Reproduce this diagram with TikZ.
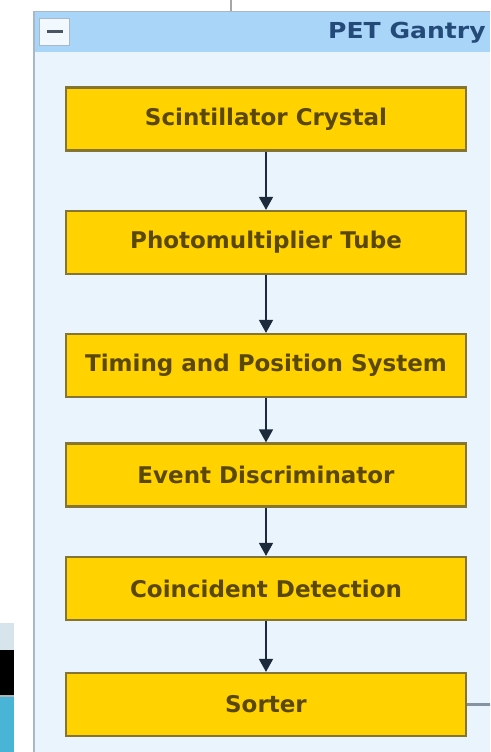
\documentclass[tikz,border=0pt]{standalone}
\usepackage{fontspec}
\setmainfont{DejaVu Sans}
\usetikzlibrary{arrows.meta,calc}
\definecolor{boxfill}{HTML}{FFD200}
\definecolor{boxline}{HTML}{857535}
\definecolor{boxtext}{HTML}{5A4800}
\definecolor{panelbg}{HTML}{EAF4FC}
\definecolor{headerbg}{HTML}{A9D5F8}
\definecolor{headertext}{HTML}{244A78}
\definecolor{arrowcol}{HTML}{1C2A3C}
\definecolor{panelline}{HTML}{A8B8C8}
\definecolor{stripblue}{HTML}{4AB4D6}
\definecolor{stripgray}{HTML}{D8E4EC}
\tikzset{
  stepbox/.style={draw=boxline, line width=2.2pt, fill=boxfill, text=boxtext,
    minimum width=400pt, minimum height=63pt, inner sep=0pt,
    font=\fontsize{23}{26}\selectfont\bfseries},
  flow/.style={draw=arrowcol, line width=1.6pt, -{Triangle[length=13pt,width=14pt]}},
  outlink/.style={draw=panelline!80!black, line width=2.5pt}
}
\begin{document}
\begin{tikzpicture}[x=1pt,y=-1pt]
\useasboundingbox (0,0) rectangle (490,752);
\clip (0,0) rectangle (490,752);
\fill[white] (0,0) rectangle (490,752);
% left strip artefacts
\fill[stripgray] (0,623) rectangle (14,650);
\fill[black] (0,650) rectangle (14,695);
\fill[gray!60] (0,695) rectangle (14,697);
\fill[stripblue] (0,697) rectangle (14,752);
% panel
\fill[panelbg] (33,52) rectangle (490,752);
\fill[headerbg] (33,12) rectangle (490,52);
\draw[panelline, line width=1.5pt] (33.75,12) -- (33.75,752);
\draw[panelline, line width=1pt] (33,12) -- (490,12);
\draw[gray!70, line width=1.5pt] (231,0) -- (231,11);
% minus button
\node[draw=panelline, fill=white!85!headerbg, line width=1.5pt, minimum width=30pt, minimum height=27pt, inner sep=0pt] (minus) at (54.5,32) {};
\draw[arrowcol!80, line width=3pt] ($(minus.center)+(-8,0)$) -- ($(minus.center)+(8,0)$);
\node[anchor=base west, text=headertext, inner sep=0pt, font=\fontsize{22}{24}\selectfont\bfseries] (title) at (328,38.5) {\scalebox{1.14}[1]{PET Gantry}};
% boxes
\node[stepbox] (b1) at (266,119) {Scintillator Crystal};
\node[stepbox] (b2) at (266,242.5) {Photomultiplier Tube};
\node[stepbox] (b3) at (266,365.5) {Timing and Position System};
\node[stepbox] (b4) at (266,475) {Event Discriminator};
\node[stepbox] (b5) at (266,588.5) {Coincident Detection};
\node[stepbox] (b6) at (266,704.5) {Sorter};
\draw[flow] (b1) -- (b2);
\draw[flow] (b2) -- (b3);
\draw[flow] (b3) -- (b4);
\draw[flow] (b4) -- (b5);
\draw[flow] (b5) -- (b6);
\coordinate (outend) at (492,704.5);
\draw[outlink] (b6.east) -- (outend);
\end{tikzpicture}
\end{document}
